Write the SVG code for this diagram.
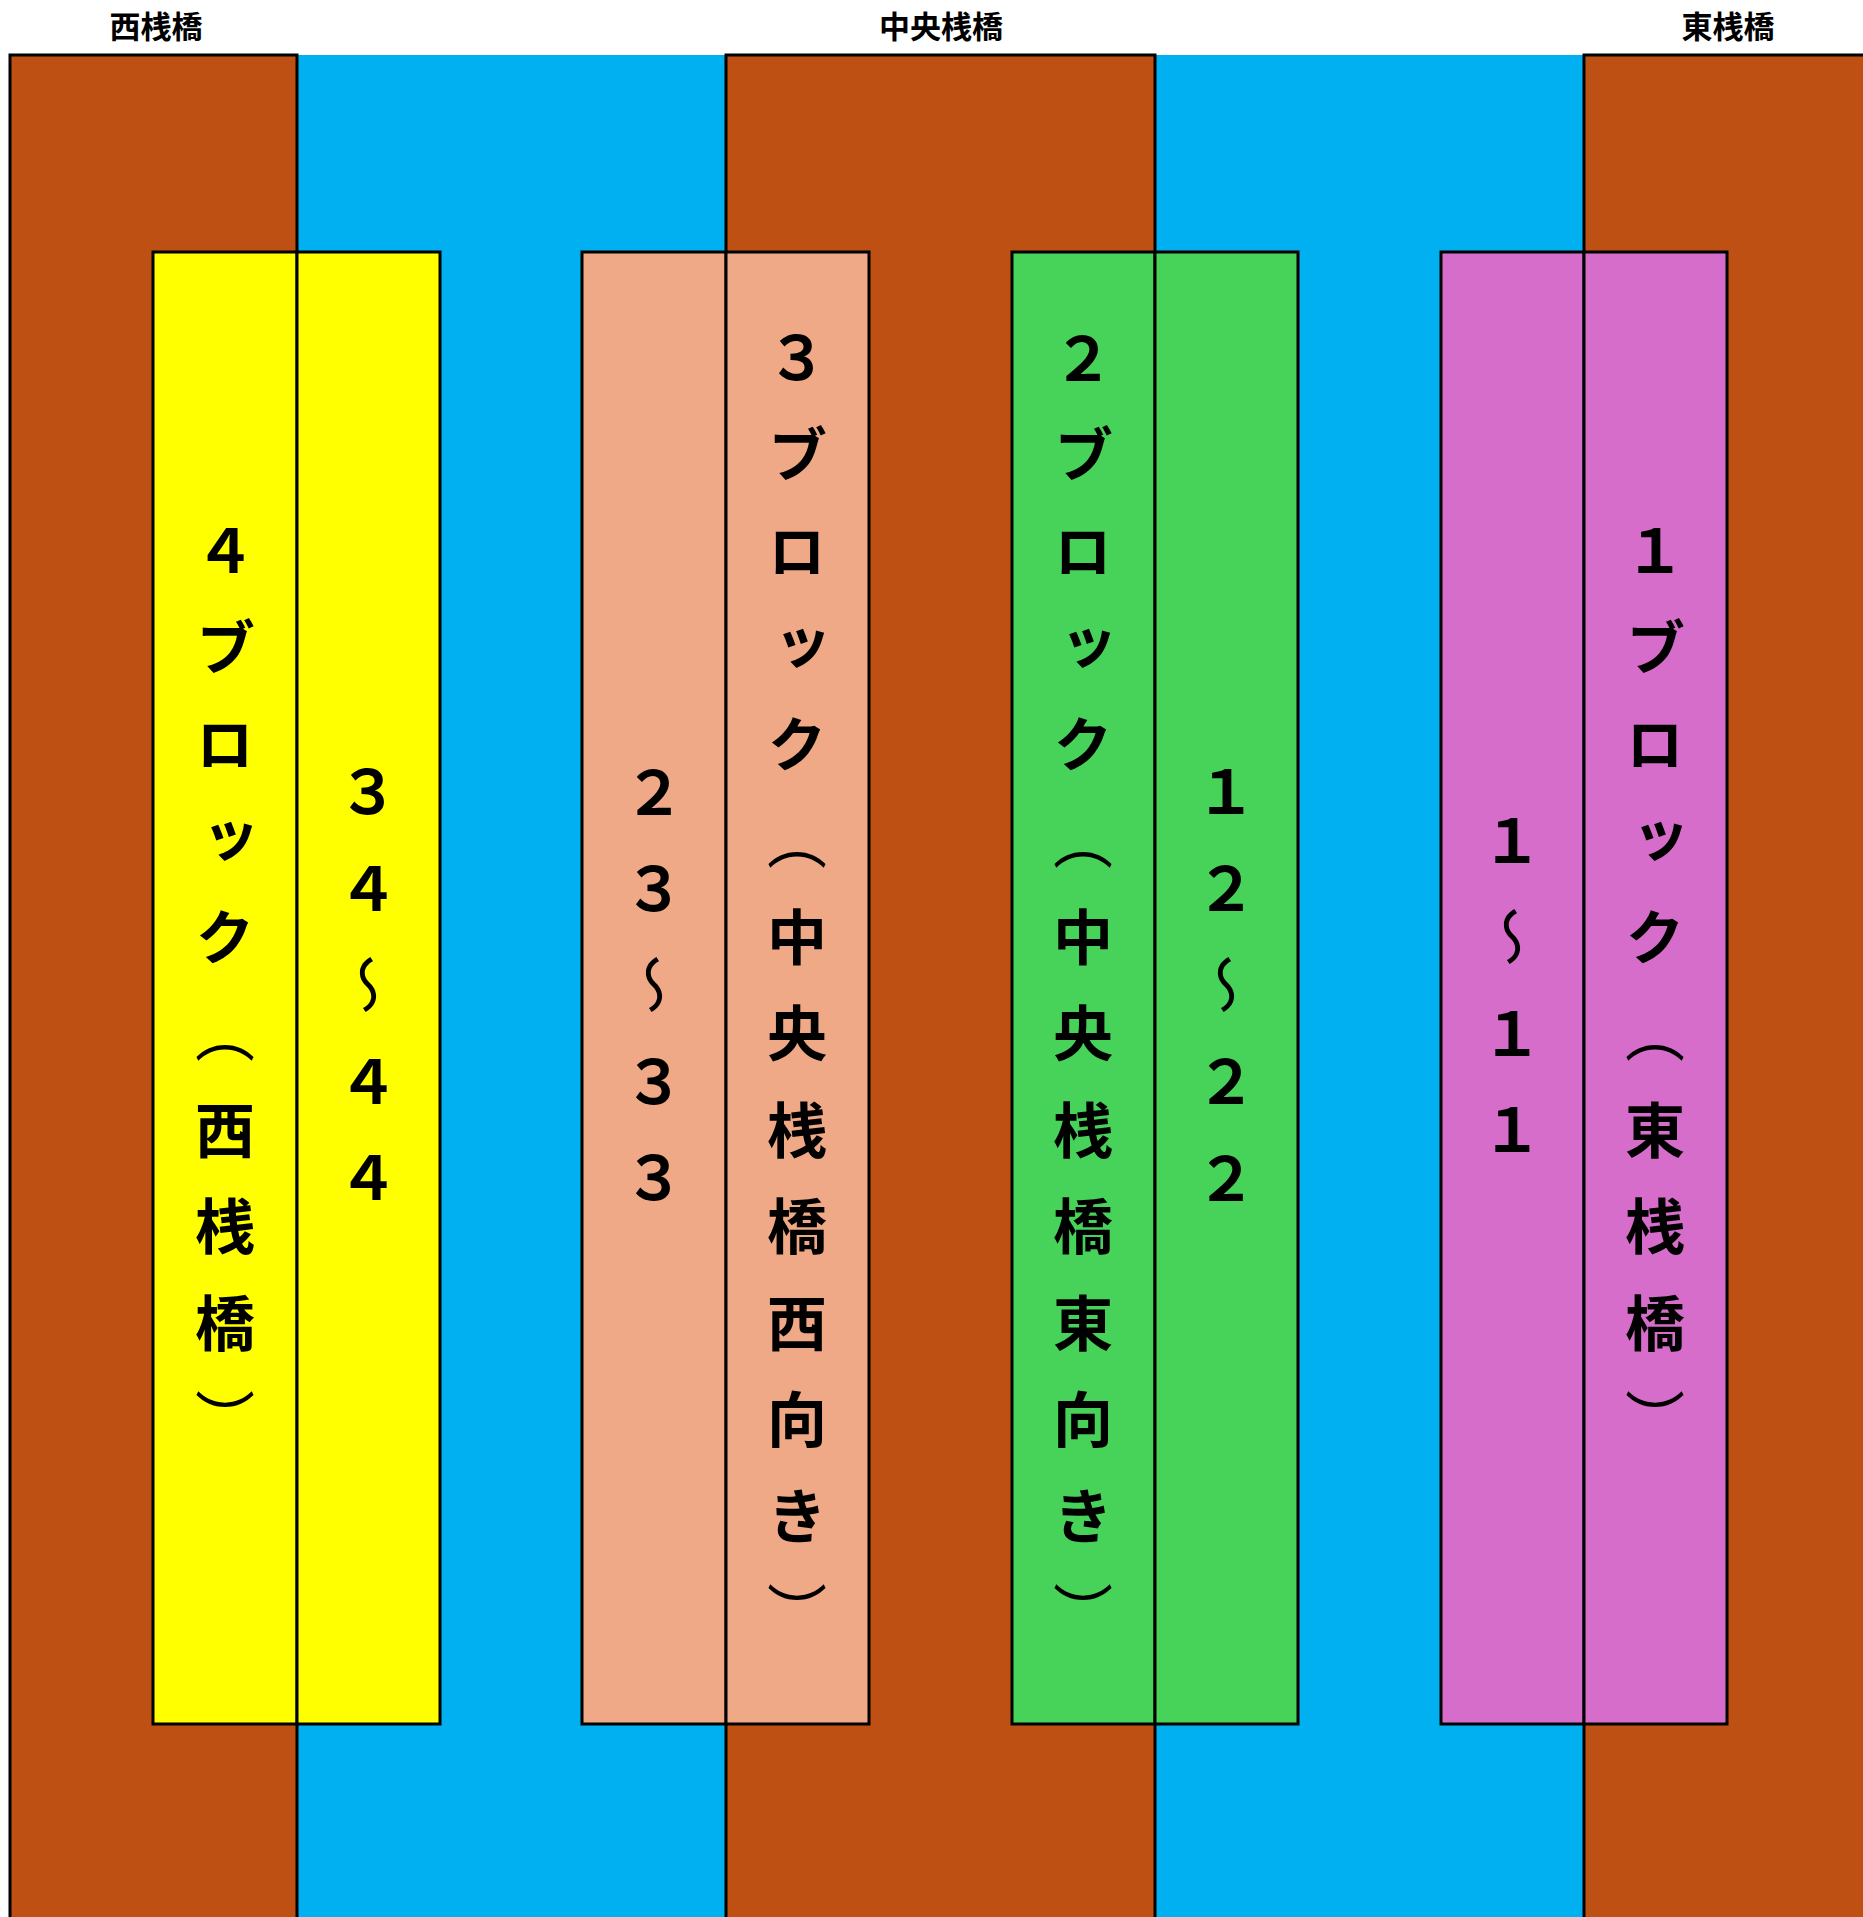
<svg xmlns="http://www.w3.org/2000/svg" width="1863" height="1917" viewBox="0 0 1863 1917">
<style>
.water{fill:#00B0F0;stroke:none}
.pier{fill:#BE5014;stroke:#000;stroke-width:3}
.cell{stroke:#000;stroke-width:3}
.y{fill:#FFFF00}.s{fill:#F0A986}.g{fill:#47D35A}.p{fill:#D76DCB}
.lbl{font-family:"Noto Sans CJK JP","Noto Sans CJK SC",sans-serif;font-weight:bold;font-size:31px;fill:#000;text-anchor:middle}
.col{font-family:"Noto Sans CJK JP","Noto Sans CJK SC",sans-serif;font-weight:bold;font-size:60px;fill:#000;writing-mode:vertical-rl}
.thin{font-weight:normal}
</style>
<rect x="0" y="0" width="1863" height="1917" fill="#FFFFFF"/>
<g id="water">
<rect class="water" x="297" y="55" width="1287" height="1870"/>
</g>
<g id="pier-west">
<rect class="pier" x="10" y="55" width="287" height="1900"/>
<text class="lbl" x="156" y="38">西桟橋</text>
</g>
<g id="pier-central">
<rect class="pier" x="726" y="55" width="429" height="1900"/>
<text class="lbl" x="941" y="38">中央桟橋</text>
</g>
<g id="pier-east">
<rect class="pier" x="1584" y="55" width="320" height="1900"/>
<text class="lbl" x="1728" y="38">東桟橋</text>
</g>
<g id="block-4">
<rect class="cell y" x="153" y="252" width="144" height="1472"/>
<rect class="cell y" x="297" y="252" width="143" height="1472"/>
<text class="col" x="225" y="520.8 617.3 713.8 810.3 906.8 1003.3 1099.8 1196.3 1292.8 1389.3">４ブロック<tspan class="thin">（</tspan>西桟橋<tspan class="thin">）</tspan></text>
<text class="col" x="368" y="762 858.5 955 1051.5 1148">３４<tspan class="thin">～</tspan>４４</text>
</g>
<g id="block-3">
<rect class="cell s" x="582" y="252" width="144" height="1472"/>
<rect class="cell s" x="726" y="252" width="143" height="1472"/>
<text class="col" x="654" y="762 858.5 955 1051.5 1148">２３<tspan class="thin">～</tspan>３３</text>
<text class="col" x="797" y="327.8 424.3 520.8 617.3 713.8 810.3 906.8 1003.3 1099.8 1196.3 1292.8 1389.3 1485.8 1582.3">３ブロック<tspan class="thin">（</tspan>中央桟橋西向き<tspan class="thin">）</tspan></text>
</g>
<g id="block-2">
<rect class="cell g" x="1012" y="252" width="143" height="1472"/>
<rect class="cell g" x="1155" y="252" width="143" height="1472"/>
<text class="col" x="1083" y="327.8 424.3 520.8 617.3 713.8 810.3 906.8 1003.3 1099.8 1196.3 1292.8 1389.3 1485.8 1582.3">２ブロック<tspan class="thin">（</tspan>中央桟橋東向き<tspan class="thin">）</tspan></text>
<text class="col" x="1226" y="762 858.5 955 1051.5 1148">１２<tspan class="thin">～</tspan>２２</text>
</g>
<g id="block-1">
<rect class="cell p" x="1441" y="252" width="143" height="1472"/>
<rect class="cell p" x="1584" y="252" width="143" height="1472"/>
<text class="col" x="1512" y="810.3 906.8 1003.3 1099.8">１<tspan class="thin">～</tspan>１１</text>
<text class="col" x="1655" y="520.8 617.3 713.8 810.3 906.8 1003.3 1099.8 1196.3 1292.8 1389.3">１ブロック<tspan class="thin">（</tspan>東桟橋<tspan class="thin">）</tspan></text>
</g>
<g id="connectors"/>
</svg>
